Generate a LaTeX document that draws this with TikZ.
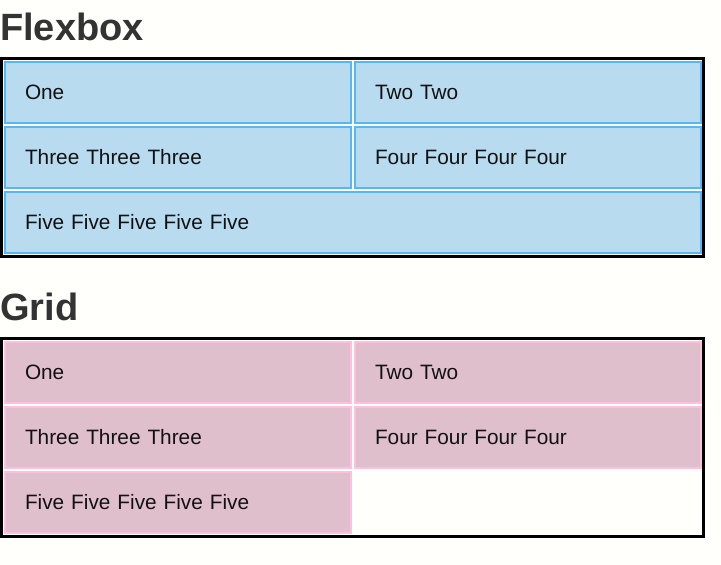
\documentclass[tikz,border=0pt]{standalone}
\usepackage{fontspec}
\setmainfont{Liberation Sans}
\definecolor{pagebg}{HTML}{FFFFFC}
\definecolor{titlegray}{HTML}{333333}
\definecolor{textblack}{HTML}{111111}
\definecolor{flexfill}{HTML}{B8DBEF}
\definecolor{flexline}{HTML}{55B8F5}
\definecolor{gridfill}{HTML}{E0BFCD}
\definecolor{gridline}{HTML}{FFBFE0}
\begin{document}
\begin{tikzpicture}[x=1pt,y=-1pt,
  heading/.style={anchor=base west,inner sep=0pt,text=titlegray,
    font=\fontsize{38}{44}\selectfont\bfseries},
  cell/.style={anchor=north west,outer sep=0pt,line width=2pt,
    minimum height=61pt,text width=305.5pt,inner xsep=20pt,inner ysep=0pt,
    text height=14pt,text depth=0pt,text=textblack,
    font=\fontsize{20.8}{25}\selectfont},
  flexcell/.style={cell,draw=flexline,fill=flexfill},
  gridcell/.style={cell,draw=gridline,fill=gridfill},
  frame/.style={draw=black,line width=3pt}]
\fill[pagebg,use as bounding box] (0,0) rectangle (721,565);

% Flexbox container with wrapped items
\node[heading] (flextitle) at (0,40) {Flexbox};
\node[flexcell] (fone) at (5,62) {One};
\node[flexcell] (ftwo) at (355,62) {Two Two};
\node[flexcell] (fthree) at (5,127) {Three Three Three};
\node[flexcell] (ffour) at (355,127) {Four Four Four Four};
% last item grows over the whole row
\node[flexcell,text width=655.5pt] (ffive) at (5,192) {Five Five Five Five Five};
\draw[frame] (1.5,58.5) rectangle (703.5,256.5);

% Grid container with two columns
\node[heading] (gridtitle) at (0,320) {Grid};
\node[gridcell] (gone) at (5,342) {One};
\node[gridcell] (gtwo) at (355,342) {Two Two};
\node[gridcell] (gthree) at (5,407) {Three Three Three};
\node[gridcell] (gfour) at (355,407) {Four Four Four Four};
% last item keeps to its column
\node[gridcell] (gfive) at (5,472) {Five Five Five Five Five};
\draw[frame] (1.5,338.5) rectangle (703.5,536.5);
\end{tikzpicture}
\end{document}
